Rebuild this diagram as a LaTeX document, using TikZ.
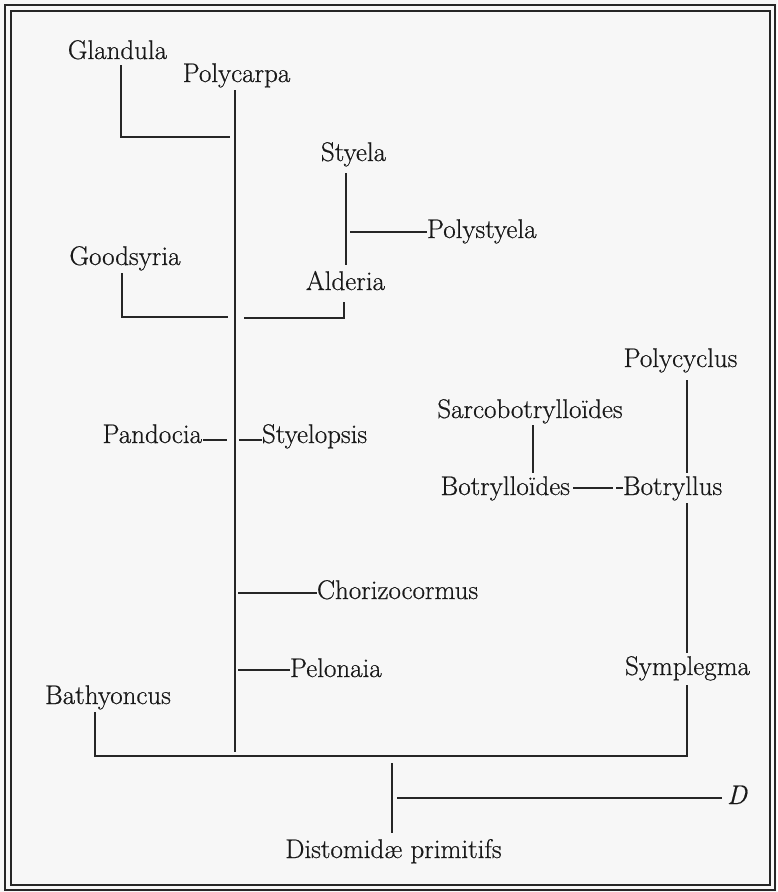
\documentclass[tikz,border=0pt]{standalone}
\usepackage{fontspec}
\newfontfamily\heavylm{Latin Modern Roman}[FakeBold=0.6]
\begin{document}
\begin{tikzpicture}[x=1pt,y=-1pt,
  lbl/.style={inner sep=0pt, outer sep=0pt, font=\heavylm\fontsize{27}{32}\selectfont, text=black!90},
  ln/.style={line width=1.05pt, black!85},
  frm/.style={line width=1.4pt, black!85}]
\useasboundingbox (0,0) rectangle (777,892);
\fill[black!3] (0,0) rectangle (777,892);
% frame
\draw[frm] (5,5) rectangle (775,890);
\draw[frm] (11,11) rectangle (770,885);
% labels
\node[lbl, anchor=base] (glandula) at (117.5,59) {Glandula};
\node[lbl, anchor=base] (polycarpa) at (236.5,82) {Polycarpa};
\node[lbl, anchor=base] (styela) at (353.5,161) {Styela};
\node[lbl, anchor=base west] (polystyela) at (427,238) {Polystyela};
\node[lbl, anchor=base] (goodsyria) at (125,265) {Goodsyria};
\node[lbl, anchor=base] (alderia) at (345.5,290) {Alderia};
\node[lbl, anchor=base] (polycyclus) at (680.5,367) {Polycyclus};
\node[lbl, anchor=base] (sarco) at (530,418) {Sarcobotrylloïdes};
\node[lbl, anchor=base east] (pandocia) at (202,443) {Pandocia};
\node[lbl, anchor=base west] (styelopsis) at (262,443) {Styelopsis};
\node[lbl, anchor=base east] (botrylloides) at (570,495) {Botrylloïdes};
\node[lbl, anchor=base west] (botryllus) at (623,495) {Botryllus};
\node[lbl, anchor=base west] (chorizo) at (317,599) {Chorizocormus};
\node[lbl, anchor=base west] (pelonaia) at (290,677) {Pelonaia};
\node[lbl, anchor=base] (symplegma) at (687.5,675) {Symplegma};
\node[lbl, anchor=base] (bathyoncus) at (108,704) {Bathyoncus};
\node[lbl, anchor=base] (distomidae) at (393.5,858) {Distomidæ primitifs};
\node[lbl, anchor=base west] (D) at (727,804) {\itshape D};
% junction coordinates
\coordinate (glB) at (121,137);
\coordinate (glE) at (230,137);
\coordinate (trTop) at (235,90);
\coordinate (trBot) at (235,752);
\coordinate (saTop) at (346,173);
\coordinate (saBot) at (346,265);
\coordinate (psJ) at (350,232);
\coordinate (goB) at (122,317);
\coordinate (goE) at (228,317);
\coordinate (alB) at (344,318);
\coordinate (alE) at (244,318);
\coordinate (sarB) at (533,473);
\coordinate (pcB) at (687,473);
\coordinate (bottomR) at (687,756);
\coordinate (bottomL) at (95,756);
\coordinate (dsTop) at (392,763);
\coordinate (dJ) at (397,798);
% connectors
\draw[ln] (glandula.south -| glB) ++(0,6) -- (glB) -- (glE);
\draw[ln] (trTop) -- (trBot);
\draw[ln] (saTop) -- (saBot);
\draw[ln] (psJ) -- (polystyela.west |- psJ);
\draw[ln] (goB |- 0,273) -- (goB) -- (goE);
\draw[ln] (alB |- 0,302) -- (alB) -- (alE);
\draw[ln] (pcB |- 0,380) -- (pcB);
\draw[ln] (sarB |- 0,425) -- (sarB);
\draw[ln] (botrylloides.east |- 0,488) ++(3,0) -- (613,488);
\draw[ln] (616,488) -- (botryllus.west |- 0,488);
\draw[ln] (687,503) -- (687,653);
\draw[line width=2pt, black!85] (pandocia.east |- 0,440) ++(1,0) -- (227,440);
\draw[ln] (239,440) -- (styelopsis.west |- 0,440);
\draw[ln] (238,593) -- (chorizo.west |- 0,593);
\draw[ln] (238,670) -- (pelonaia.west |- 0,670);
\draw[ln] (bottomL |- 0,712) -- (bottomL) -- (bottomR) -- (687,685);
\draw[ln] (dsTop) -- (392,833);
\draw[ln] (dJ) -- (722,798);
\end{tikzpicture}
\end{document}
